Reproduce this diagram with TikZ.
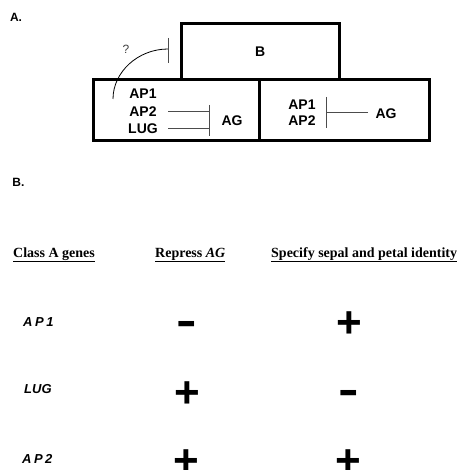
\documentclass[tikz,border=0pt]{standalone}
\usepackage{fontspec}
\setmainfont{Liberation Serif}
\setsansfont{Liberation Sans}
\begin{document}
\begin{tikzpicture}[x=1pt,y=-1pt,
  box/.style={draw, line width=3pt, inner sep=0pt},
  lbl/.style={font=\sffamily\bfseries\fontsize{14}{16}\selectfont, inner sep=0pt},
  sec/.style={font=\sffamily\bfseries\fontsize{12}{14}\selectfont, inner sep=0pt},
  hdr/.style={font=\rmfamily\bfseries\fontsize{14}{16}\selectfont, inner sep=0pt, anchor=base west},
  gene/.style={font=\sffamily\bfseries\itshape\fontsize{13}{15}\selectfont, inner sep=0pt, anchor=west},
  sign/.style={font=\sffamily\bfseries\fontsize{44}{44}\selectfont, inner sep=0pt, anchor=base},
  inh/.style={draw=black!70, line width=1pt},
]
\useasboundingbox (0,0) rectangle (461,470);

% Section A
\node[sec] (secA) at (16,17) {A.};
\node[box, minimum width=158.5pt, minimum height=56.5pt, font=\sffamily\bfseries\fontsize{14}{16}\selectfont] (bbox) at (260.25,51.75) {B};
\node[box, minimum width=166pt, minimum height=61pt] (leftbox) at (176.5,110.5) {};
\node[box, minimum width=170pt, minimum height=61pt] (rightbox) at (344.5,110.5) {};

% question inhibition
\coordinate (qstart) at (113,99);
\coordinate (qend) at (168,49);
\coordinate (qbartop) at (168,38);
\coordinate (qbarbot) at (168,63);
\draw[line width=0.8pt] (qstart) .. controls (113,72) and (138,49) .. (qend);
\draw[inh] (qbartop) -- (qbarbot);
\node[font=\sffamily\fontsize{12}{14}\selectfont, text=black!75, inner sep=0pt] (qmark) at (126,49) {?};

% left box content
\node[lbl] (lap1) at (143,94) {AP1};
\node[lbl] (lap2) at (143,112) {AP2};
\node[lbl] (llug) at (143,129) {LUG};
\node[lbl] (lag) at (232,121) {AG};
\coordinate (l1s) at (168,112);
\coordinate (l2s) at (168,129);
\coordinate (lbt) at (209,105);
\coordinate (lbb) at (209,136);
\draw[inh] (l1s) -- (l1s -| lbt);
\draw[inh] (l2s) -- (l2s -| lbt);
\draw[inh] (lbt) -- (lbb);

% right box content
\node[lbl] (rap1) at (302,105) {AP1};
\node[lbl] (rap2) at (302,121) {AP2};
\node[lbl] (rag) at (386,114) {AG};
\coordinate (rbt) at (326,97);
\coordinate (rbb) at (326,128);
\coordinate (rls) at (368,113);
\draw[inh] (rbt) -- (rbb);
\draw[inh] (rls) -- (rls -| rbt);

% Section B
\node[sec] (secB) at (18.5,182) {B.};
\node[hdr] (h1) at (13,257) {\underline{Class A genes}};
\node[hdr] (h2) at (155,257) {\underline{Repress \textit{AG}}};
\node[hdr] (h3) at (271,257) {\underline{Specify sepal and petal identity}};

\node[gene] (g1) at (23,322) {A\kern2.5pt P\kern2.5pt 1};
\node[gene] (g2) at (24,389) {LUG};
\node[gene] (g3) at (22,459) {A\kern2.5pt P\kern2.5pt 2};

\node[sign] (s11) at (187,335.5) {\scalebox{1.4}[1]{-}};
\node[sign] (s12) at (349,337.5) {+};
\node[sign] (s21) at (187,407.5) {+};
\node[sign] (s22) at (349,404.5) {\scalebox{1.4}[1]{-}};
\node[sign] (s31) at (186,475.5) {+};
\node[sign] (s32) at (348,475.5) {+};
\end{tikzpicture}
\end{document}
